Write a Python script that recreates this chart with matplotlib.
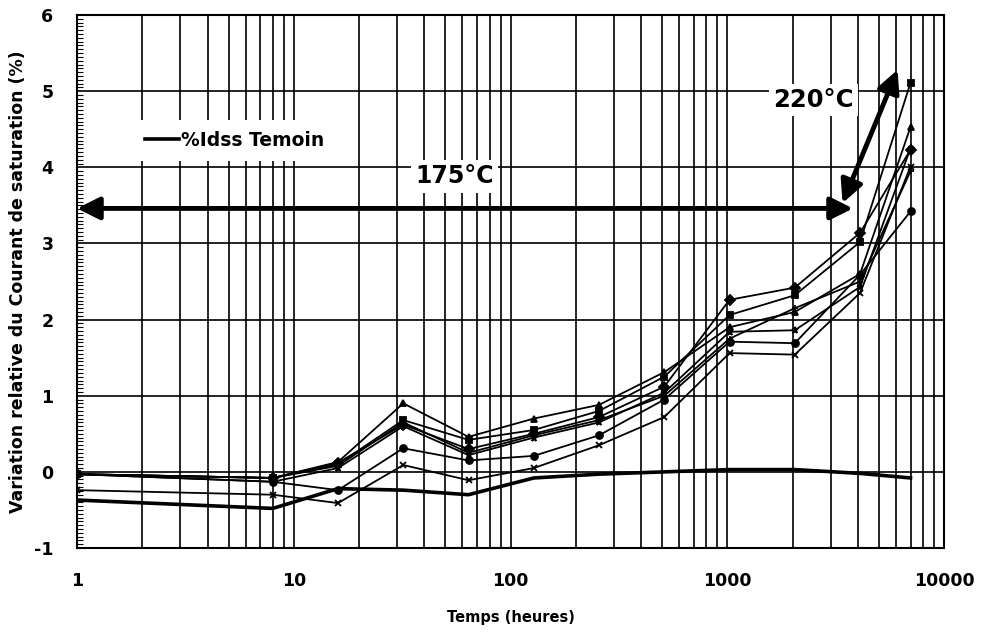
import numpy as np
import matplotlib
matplotlib.use('Agg')
import matplotlib.pyplot as plt
from matplotlib.ticker import FixedLocator, MultipleLocator, NullFormatter

# time points (hours) and relative variation of Idss (%)
temps = [1, 8, 16, 32, 64, 128, 256, 512, 1024, 2048, 4096, 7000]

s_diamond = [-0.03, -0.08, 0.12, 0.62, 0.30, 0.50, 0.72, 1.12, 2.26, 2.42, 3.14, 4.23]
s_square = [-0.03, -0.08, 0.10, 0.68, 0.42, 0.55, 0.80, 1.25, 2.06, 2.32, 3.02, 5.11]
s_triangle = [-0.03, -0.08, 0.13, 0.90, 0.46, 0.70, 0.88, 1.31, 1.90, 2.10, 2.60, 4.53]
s_cross = [-0.24, -0.30, -0.41, 0.09, -0.11, 0.05, 0.35, 0.72, 1.56, 1.54, 2.35, 4.01]
s_star = [-0.03, -0.13, 0.05, 0.60, 0.22, 0.45, 0.65, 1.04, 1.84, 1.86, 2.43, 4.25]
s_circle = [-0.03, -0.13, -0.24, 0.31, 0.15, 0.21, 0.48, 0.95, 1.71, 1.69, 2.59, 3.42]
s_plus = [-0.03, -0.08, 0.08, 0.65, 0.25, 0.48, 0.68, 1.00, 1.75, 2.15, 2.50, 3.95]
temoin = [-0.37, -0.48, -0.22, -0.24, -0.30, -0.08, -0.03, 0.00, 0.03, 0.03, -0.02, -0.08]

series = [s_diamond, s_square, s_triangle, s_cross, s_star, s_circle, s_plus]
markers = ['D', 's', '^', 'x', '*', 'o', '+']

plt.rcParams['font.family'] = ['DejaVu Sans']
plt.rcParams['font.weight'] = 'bold'
plt.rcParams['axes.unicode_minus'] = False

fig = plt.figure(figsize=(9.82, 6.37), dpi=100)
ax = fig.add_axes([0.0784, 0.1397, 0.883, 0.8367])

for vals, m in zip(series, markers):
    ax.plot(temps, vals, color='black', lw=1.3, marker=m, ms=5, mew=1.3)

line_t, = ax.plot(temps, temoin, color='black', lw=2.6, label='%Idss Temoin')

ax.set_xscale('log')
ax.set_xlim(1, 10000)
ax.set_ylim(-1, 6)
ax.set_yticks(range(-1, 7))
ax.yaxis.set_minor_locator(MultipleLocator(0.05))
ax.xaxis.set_major_locator(FixedLocator([1, 10, 100, 1000, 10000]))
ax.xaxis.set_major_formatter(plt.FuncFormatter(lambda v, p: '%d' % v))
ax.xaxis.set_minor_formatter(NullFormatter())

ax.grid(True, which='major', axis='y', color='black', lw=1.2)
ax.grid(True, which='both', axis='x', color='black', lw=1.2)
ax.set_axisbelow(True)
for sp in ax.spines.values():
    sp.set_linewidth(1.5)

ax.tick_params(axis='x', which='both', length=0, pad=17, labelsize=12.5)
ax.tick_params(axis='y', which='major', length=0, pad=17, labelsize=12.5)
ax.tick_params(axis='y', which='minor', length=4, width=0.8, direction='in')

ax.set_xlabel('Temps (heures)', fontsize=10.5, fontweight='bold', labelpad=15)
ax.set_ylabel('Variation relative du Courant de saturation (%)', fontsize=12.5,
              fontweight='bold', labelpad=5)

# temperature annotations
arrow = dict(arrowstyle='<|-|>', lw=3.5, color='black', mutation_scale=34,
             shrinkA=0, shrinkB=0)
ax.annotate('', xy=(1, 3.46), xytext=(3800, 3.46), arrowprops=arrow)
ax.annotate('', xy=(3400, 3.53), xytext=(6100, 5.28), arrowprops=arrow)
ax.text(55, 3.88, '175°C', fontsize=17, fontweight='bold', ha='center', va='center',
        bbox=dict(facecolor='white', edgecolor='none', pad=3))
ax.text(2500, 4.88, '220°C', fontsize=17.5, fontweight='bold', ha='center', va='center',
        bbox=dict(facecolor='white', edgecolor='none', pad=3))

leg = ax.legend(handles=[line_t], loc='center left', bbox_to_anchor=(0.066, 0.765),
                frameon=True, fancybox=False, edgecolor='none', framealpha=1,
                fontsize=13.5, handlelength=1.8, handletextpad=0.1, borderpad=0.6,
                borderaxespad=0)

fig.savefig('out.png', dpi=100)
